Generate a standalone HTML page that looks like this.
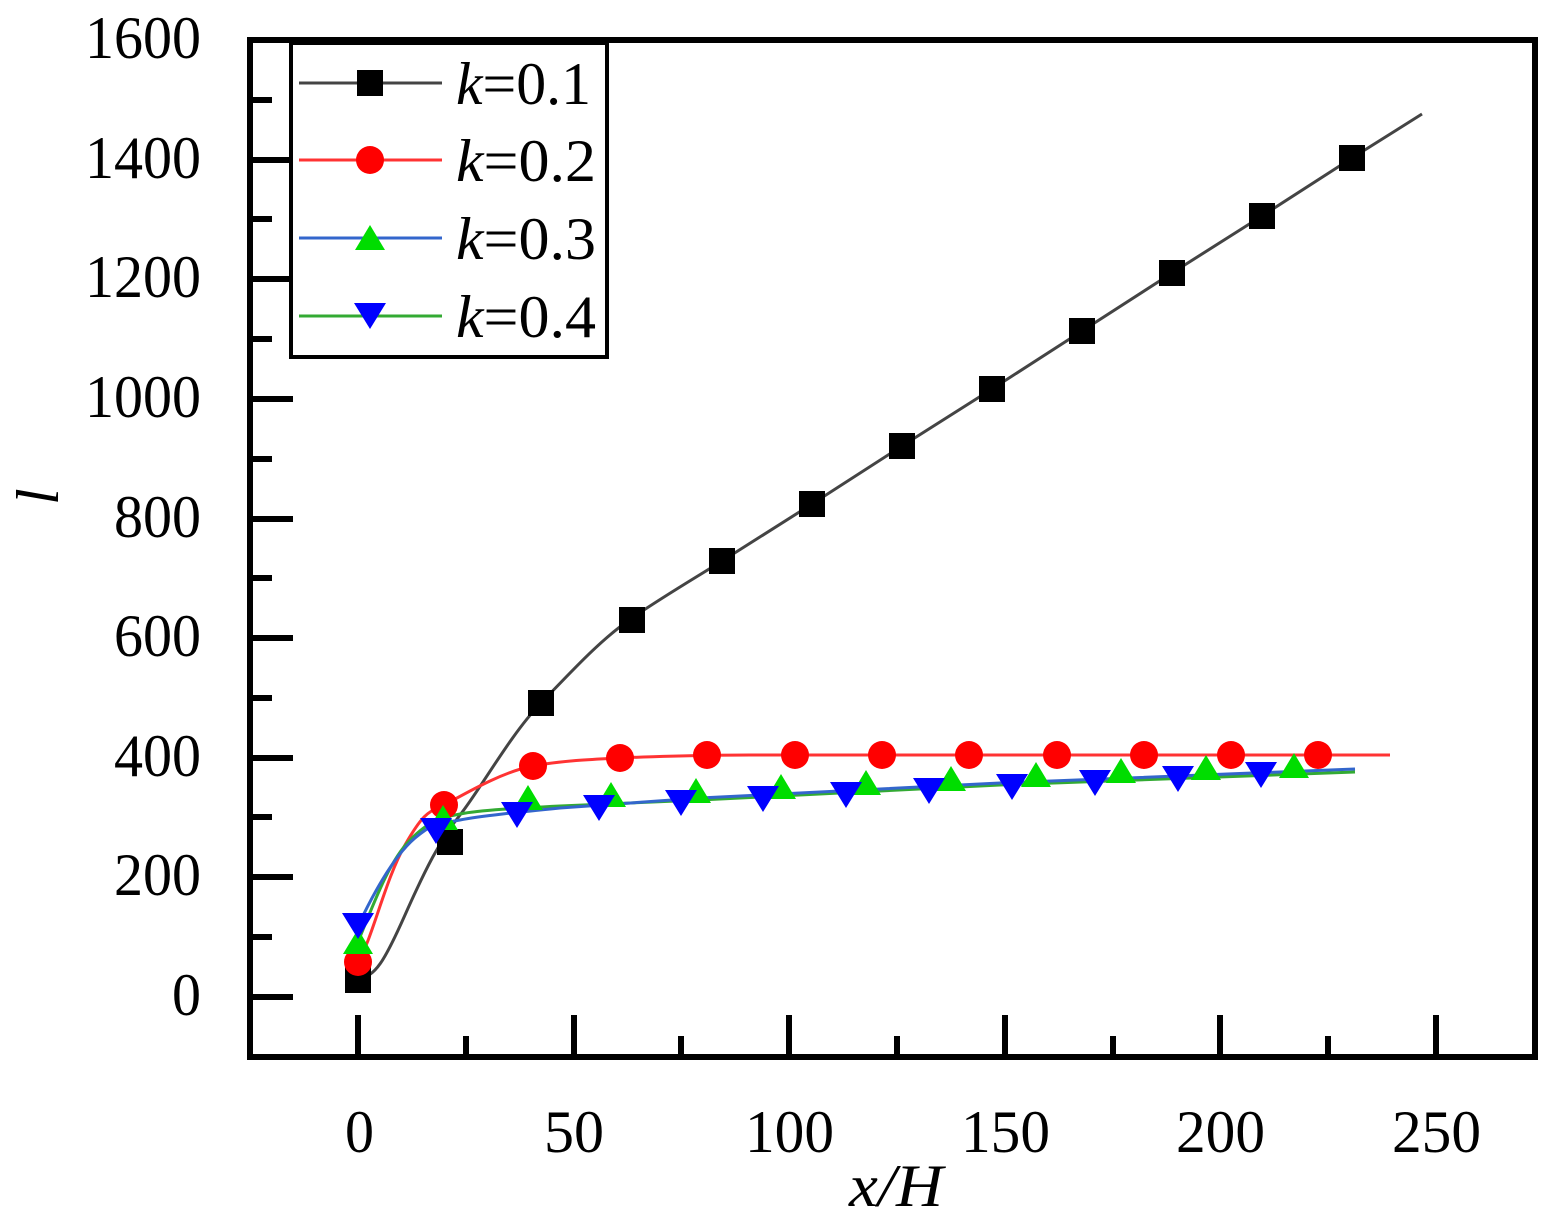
<!DOCTYPE html>
<html><head><style>body{margin:0;background:#fff}</style></head><body>
<svg width="1564" height="1222" viewBox="0 0 1564 1222" xmlns="http://www.w3.org/2000/svg" font-family="Liberation Serif, serif">
<rect width="1564" height="1222" fill="#fff"/>
<g stroke="#000" stroke-width="6">
<path d="M250 997H293M250 877H293M250 758H293M250 638H293M250 519H293M250 399H293M250 279H293M250 160H293M250 40H293"/>
<path d="M250 937H272M250 817H272M250 698H272M250 578H272M250 459H272M250 339H272M250 219H272M250 100H272"/>
<path d="M358 1057V1015M574 1057V1015M789 1057V1015M1005 1057V1015M1220 1057V1015M1436 1057V1015"/>
<path d="M466 1057V1036M681 1057V1036M897 1057V1036M1113 1057V1036M1328 1057V1036"/>
<rect x="250" y="40" width="1285" height="1017" fill="none"/>
</g>
<g font-size="60" text-anchor="end" lengthAdjust="spacingAndGlyphs">
<text x="201" y="1015" textLength="29" lengthAdjust="spacingAndGlyphs">0</text>
<text x="201" y="895" textLength="87" lengthAdjust="spacingAndGlyphs">200</text>
<text x="201" y="776" textLength="87" lengthAdjust="spacingAndGlyphs">400</text>
<text x="201" y="656" textLength="87" lengthAdjust="spacingAndGlyphs">600</text>
<text x="201" y="537" textLength="87" lengthAdjust="spacingAndGlyphs">800</text>
<text x="201" y="417" textLength="116" lengthAdjust="spacingAndGlyphs">1000</text>
<text x="201" y="297" textLength="116" lengthAdjust="spacingAndGlyphs">1200</text>
<text x="201" y="178" textLength="116" lengthAdjust="spacingAndGlyphs">1400</text>
<text x="201" y="58" textLength="116" lengthAdjust="spacingAndGlyphs">1600</text>
</g>
<g font-size="60">
<text x="345" y="1152" textLength="29" lengthAdjust="spacingAndGlyphs">0</text>
<text x="544" y="1152" textLength="60" lengthAdjust="spacingAndGlyphs">50</text>
<text x="745" y="1152" textLength="89" lengthAdjust="spacingAndGlyphs">100</text>
<text x="961" y="1152" textLength="89" lengthAdjust="spacingAndGlyphs">150</text>
<text x="1176" y="1152" textLength="89" lengthAdjust="spacingAndGlyphs">200</text>
<text x="1392" y="1152" textLength="89" lengthAdjust="spacingAndGlyphs">250</text>
<text x="849" y="1206" font-style="italic" textLength="94" lengthAdjust="spacingAndGlyphs">x/H</text>
<text x="0" y="0" font-style="italic" transform="translate(58,505) rotate(-90)">l</text>
</g>
<path d="M358 978C375 978 385 960 405 915S440 840 460 815 510 735 541 703 600 640 632 618 700 575 722 561L812 504 902 446 992 389 1082 331 1172 273 1262 216 1352 158 1422 114" fill="none" stroke="#444" stroke-width="3"/>
<path d="M358 962C372 940 385 880 405 845S430 812 444 805 500 772 533 766 600 759 620 758 700 755 750 755H1390" fill="none" stroke="#f33" stroke-width="3"/>
<path d="M358 942C375 900 390 860 410 840S440 818 460 814 520 808 560 806L700 800 1000 785 1355 772" fill="none" stroke="#3a3" stroke-width="3"/>
<path d="M358 926C375 890 395 855 415 838S440 824 460 820 520 812 560 808L700 798 1000 783 1355 769" fill="none" stroke="#36c" stroke-width="3"/>
<g fill="#000">
<rect x="345" y="967" width="26" height="26"/><rect x="437" y="829" width="26" height="26"/><rect x="528" y="690" width="26" height="26"/><rect x="619" y="607" width="26" height="26"/><rect x="709" y="548" width="26" height="26"/><rect x="799" y="491" width="26" height="26"/><rect x="889" y="433" width="26" height="26"/><rect x="979" y="376" width="26" height="26"/><rect x="1069" y="318" width="26" height="26"/><rect x="1159" y="260" width="26" height="26"/><rect x="1249" y="203" width="26" height="26"/><rect x="1339" y="145" width="26" height="26"/>
</g>
<g fill="#f00">
<circle cx="358" cy="962" r="14"/><circle cx="444" cy="805" r="14"/><circle cx="533" cy="766" r="14"/><circle cx="620" cy="758" r="14"/><circle cx="707" cy="755" r="14"/><circle cx="795" cy="755" r="14"/><circle cx="882" cy="755" r="14"/><circle cx="969" cy="755" r="14"/><circle cx="1057" cy="755" r="14"/><circle cx="1144" cy="755" r="14"/><circle cx="1231" cy="755" r="14"/><circle cx="1318" cy="755" r="14"/>
</g>
<g fill="#0d0">
<path d="M358 929l15 25h-30z M443 805l15 25h-30z M528 785l15 25h-30z M611 782l15 25h-30z M696 778l15 25h-30z M781 774l15 25h-30z M866 770l15 25h-30z M951 766l15 25h-30z M1036 762l15 25h-30z M1121 758l15 25h-30z M1206 755l15 25h-30z M1294 753l15 25h-30z"/>
</g>
<g fill="#00f">
<path d="M358 939l16-26h-32z M436 844l16-26h-32z M517 828l16-26h-32z M599 821l16-26h-32z M681 816l16-26h-32z M763 812l16-26h-32z M846 808l16-26h-32z M929 804l16-26h-32z M1012 800l16-26h-32z M1095 796l16-26h-32z M1178 792l16-26h-32z M1261 788l16-26h-32z"/>
</g>
<rect x="291" y="43" width="316" height="314" fill="#fff" stroke="#000" stroke-width="4"/>
<path d="M299 83H442" stroke="#444" stroke-width="3"/><rect x="357" y="70" width="26" height="26"/>
<path d="M299 160H442" stroke="#f33" stroke-width="3"/><circle cx="370" cy="160" r="14" fill="#f00"/>
<path d="M299 238H442" stroke="#36c" stroke-width="3"/><path d="M370 225l15 25h-30z" fill="#0d0"/>
<path d="M299 316H442" stroke="#3a3" stroke-width="3"/><path d="M370 329l16-26h-32z" fill="#00f"/>
<g font-size="60">
<text x="456" y="104" textLength="135" lengthAdjust="spacingAndGlyphs"><tspan font-style="italic">k</tspan>=0.1</text>
<text x="456" y="181" textLength="140" lengthAdjust="spacingAndGlyphs"><tspan font-style="italic">k</tspan>=0.2</text>
<text x="456" y="259" textLength="140" lengthAdjust="spacingAndGlyphs"><tspan font-style="italic">k</tspan>=0.3</text>
<text x="456" y="337" textLength="140" lengthAdjust="spacingAndGlyphs"><tspan font-style="italic">k</tspan>=0.4</text>
</g>
</svg>
</body></html>
